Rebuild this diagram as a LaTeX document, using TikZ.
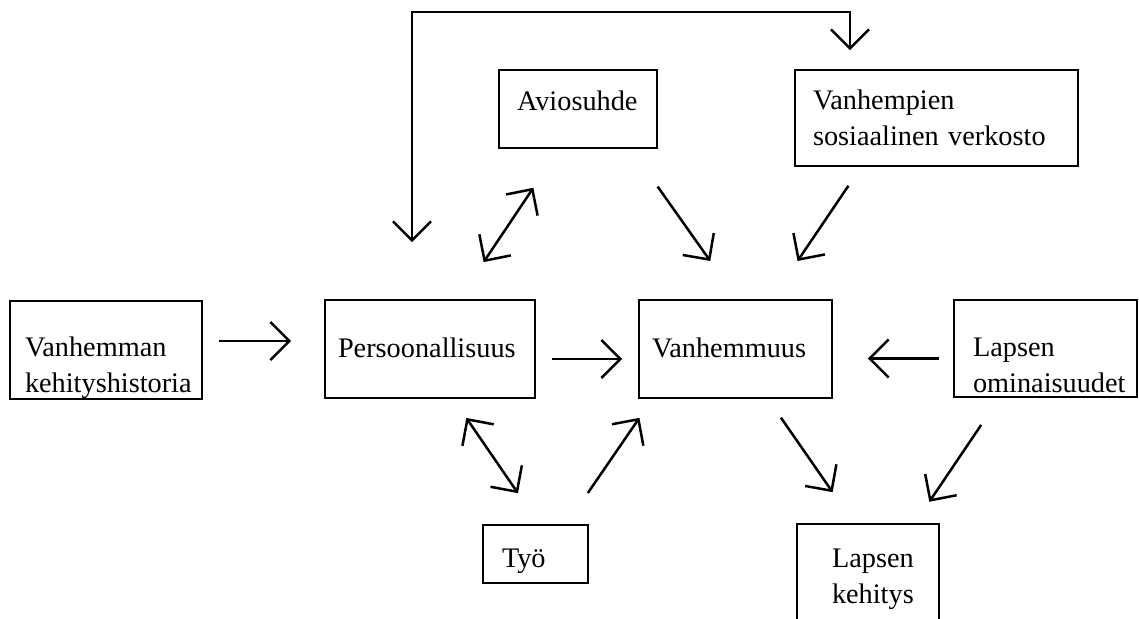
\documentclass[tikz,border=0pt]{standalone}
\usepackage{fontspec}
\setmainfont{Liberation Serif}
\usetikzlibrary{arrows.meta}
\begin{document}
\begin{tikzpicture}[>={Straight Barb[length=19bp,width=38bp]},line width=2.5bp,line join=miter,
  box/.style={draw=black,rectangle,line width=1.8bp,inner sep=0pt,align=left,font=\fontsize{28.3bp}{35.5bp}\selectfont},]
\useasboundingbox (0bp,0bp) rectangle (1139bp,619bp);
\clip (0bp,0bp) rectangle (1139bp,619bp);
%%
\node (avio) at (578bp,510bp) [box,minimum width=158bp,minimum height=78bp,text width=122bp,text height=4bp,text depth=0bp] {Aviosuhde};
  \node (verk) at (936.5bp,501bp) [box,minimum width=283bp,minimum height=96bp,text width=247bp,text height=0bp,text depth=16bp] {Vanhempien\\sosiaalinen verkosto};
  \node (hist) at (106bp,269bp) [box,minimum width=192bp,minimum height=98bp,text width=162bp,text height=14bp,text depth=0bp] {Vanhemman\\kehityshistoria};
  \node (pers) at (430bp,270bp) [box,minimum width=210bp,minimum height=98bp,text width=184bp,text height=18bp,text depth=0bp] {Persoonallisuus};
  \node (vanh) at (735.5bp,270bp) [box,minimum width=193bp,minimum height=98bp,text width=167bp,text height=18bp,text depth=0bp] {Vanhemmuus};
  \node (omin) at (1045.5bp,270.5bp) [box,minimum width=183bp,minimum height=97bp,text width=145bp,text height=17bp,text depth=0bp] {Lapsen\\ominaisuudet};
  \node (tyo) at (535.5bp,65bp) [box,minimum width=105bp,minimum height=58bp,text width=67bp,text height=28bp,text depth=0bp] {Työ};
  \node (kehi) at (868bp,40bp) [box,minimum width=142bp,minimum height=110bp,text width=72bp,text height=0bp,text depth=22bp] {Lapsen\\kehitys};
  \draw [<->,shorten <=57bp,shorten >=19bp] ([xshift=-18bp]pers.north) -- ++(0bp,287bp) -| ([xshift=-86.5bp]verk.north);
  \draw [<->,shorten <=44.5bp,shorten >=46.8bp] (pers.60) -- (avio.245);
  \draw [->,shorten <=46.2bp,shorten >=46.7bp] (avio.323) -- (vanh.88);
  \draw [->,shorten <=22.8bp,shorten >=46bp] (verk.213) -- (vanh.54);
  \draw [->,shorten <=16bp,shorten >=33bp] ([yshift=9bp]hist.east) -- ([yshift=9bp]hist.east -| pers.west);
  \draw [->,shorten <=16bp,shorten >=16bp] ([yshift=-10bp]pers.east) -- ([yshift=-10bp]pers.east -| vanh.west);
  \draw [->,shorten <=14bp,shorten >=35bp] ([yshift=-10bp]omin.west) -- ([yshift=-10bp]omin.west -| vanh.east);
  \draw [<->,shorten <=23.1bp,shorten >=37.5bp] (pers.295) -- (tyo.83);
  \draw [->,shorten <=37.7bp,shorten >=23bp] (tyo.44) -- (vanh.211);
  \draw [->,shorten <=22.9bp,shorten >=37.6bp] (vanh.303) -- (kehi.104);
  \draw [->,shorten <=32.6bp,shorten >=25.7bp] (omin.227) -- (kehi.50);
%
\end{tikzpicture}
\end{document}
